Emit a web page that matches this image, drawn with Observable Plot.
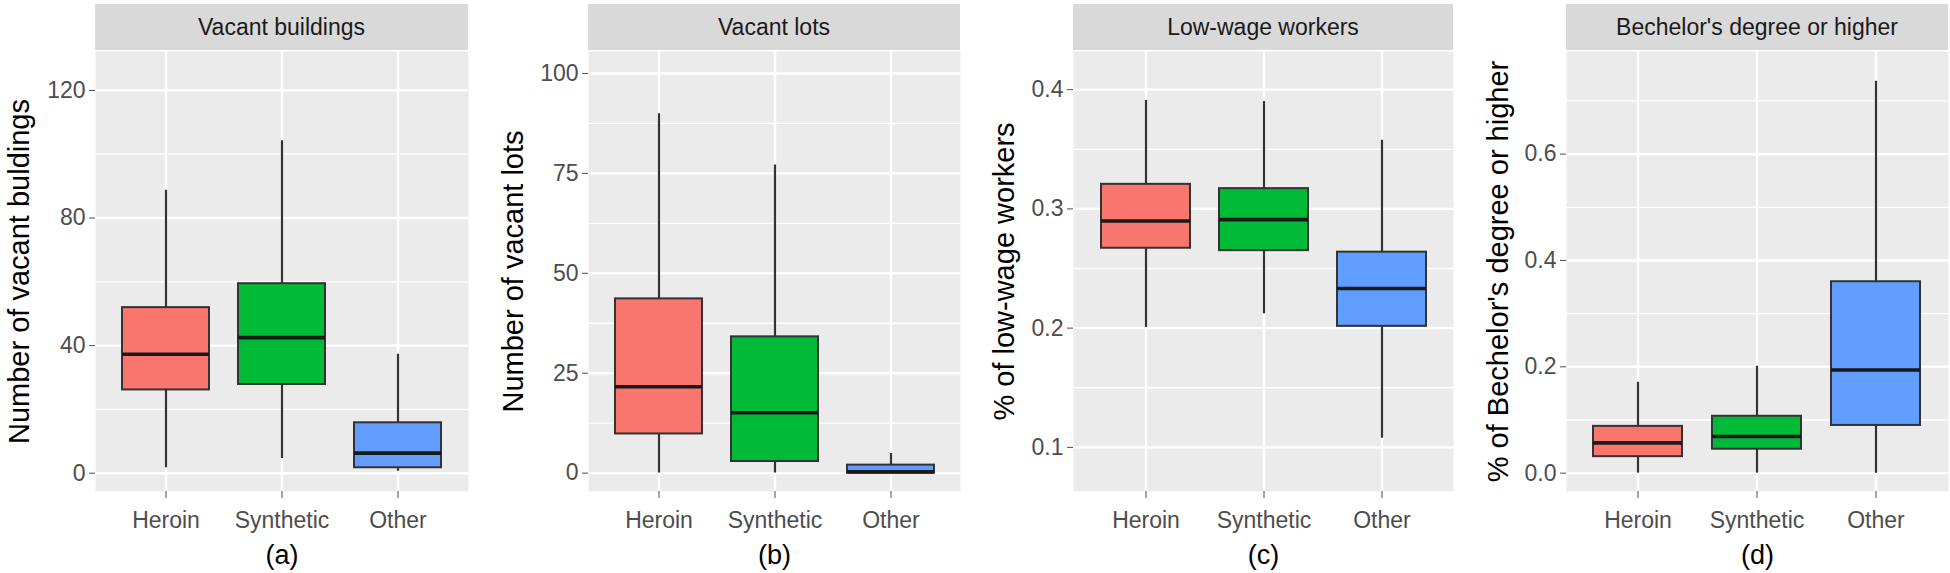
<!DOCTYPE html>
<html><head><meta charset="utf-8">
<script src="https://cdn.jsdelivr.net/npm/d3@7"></script>
<script src="https://cdn.jsdelivr.net/npm/@observablehq/plot@0.6"></script>
<style>
body{margin:0;background:#fff;overflow:hidden;}
#wrap{position:relative;width:1950px;height:573px;font-family:"Liberation Sans",Arial,sans-serif;}
.panel{position:absolute;top:0;}
.strip{position:absolute;top:4px;height:46px;background:#D9D9D9;color:#1A1A1A;font-size:23px;display:flex;align-items:center;justify-content:center;white-space:nowrap;}
</style></head><body><div id="wrap"></div>
<script>
// ---------- data ----------
const groups = ["Heroin", "Synthetic", "Other"];
const groupFills = ["#F8766D", "#00BA38", "#619CFF"];
const stripTitles = ["Vacant buildings", "Vacant lots", "Low-wage workers", "Bechelor's degree or higher"];
const yTitles = ["Number of vacant buldings", "Number of vacant lots", "% of low-wage workers", "% of Bechelor's degree or higher"];
const captions = ["(a)", "(b)", "(c)", "(d)"];

// each row: [lower whisker, Q1, median, Q3, upper whisker] for Heroin, Synthetic, Other
const vacantBuildings = [
  [1.7, 26.1, 37.3, 51.9, 88.7],
  [4.6, 27.8, 42.5, 59.4, 104.2],
  [0.6, 1.7, 6.3, 15.8, 37.3]
];
const vacantLots = [
  [0, 9.8, 21.6, 43.6, 89.9],
  [0, 2.9, 15.1, 34.1, 77.1],
  [0, 0, 0.3, 2.0, 4.9]
];
const lowWageWorkers = [
  [0.2006, 0.267, 0.2898, 0.3206, 0.391],
  [0.212, 0.265, 0.291, 0.317, 0.39],
  [0.1077, 0.2015, 0.2332, 0.2637, 0.3575]
];
const bachelorDegree = [
  [0, 0.031, 0.057, 0.088, 0.171],
  [0, 0.045, 0.069, 0.107, 0.201],
  [0, 0.0897, 0.194, 0.36, 0.737]
];

const buildingsTicks = [0, 40, 80, 120];
const buildingsTickLabels = ["0", "40", "80", "120"];
const buildingsMinor = [20, 60, 100];
const buildingsDomain = [-5.74, 132.2];

const lotsTicks = [0, 25, 50, 75, 100];
const lotsTickLabels = ["0", "25", "50", "75", "100"];
const lotsMinor = [12.5, 37.5, 62.5, 87.5];
const lotsDomain = [-4.6, 105.5];

const wageTicks = [0.1, 0.2, 0.3, 0.4];
const wageTickLabels = ["0.1", "0.2", "0.3", "0.4"];
const wageMinor = [0.15, 0.25, 0.35];
const wageDomain = [0.063, 0.432];

const bachelorTicks = [0, 0.2, 0.4, 0.6];
const bachelorTickLabels = ["0.0", "0.2", "0.4", "0.6"];
const bachelorMinor = [0.1, 0.3, 0.5, 0.7];
const bachelorDomain = [-0.0345, 0.793];

// ---------- layout ----------
const layout = [
  {left: 0,    width: 470, marginLeft: 95,  marginRight: 2, titleDx: -87},
  {left: 480,  width: 480, marginLeft: 108, marginRight: 0, titleDx: -86},
  {left: 960,  width: 495, marginLeft: 113, marginRight: 2, titleDx: -80},
  {left: 1455, width: 495, marginLeft: 111, marginRight: 2, titleDx: -79}
];
const H = 573, MT = 51, MB = 82;
const FONT = '"Liberation Sans", Arial, sans-serif';

const panels = [
  {stats: vacantBuildings, ticks: buildingsTicks, labels: buildingsTickLabels, minor: buildingsMinor, domain: buildingsDomain},
  {stats: vacantLots, ticks: lotsTicks, labels: lotsTickLabels, minor: lotsMinor, domain: lotsDomain},
  {stats: lowWageWorkers, ticks: wageTicks, labels: wageTickLabels, minor: wageMinor, domain: wageDomain},
  {stats: bachelorDegree, ticks: bachelorTicks, labels: bachelorTickLabels, minor: bachelorMinor, domain: bachelorDomain}
];

const wrap = document.getElementById("wrap");

panels.forEach((p, k) => {
  const L = layout[k];
  const rows = groups.map((g, i) => ({
    group: g, low: p.stats[i][0], q1: p.stats[i][1], med: p.stats[i][2], q3: p.stats[i][3], high: p.stats[i][4]
  }));
  const chart = Plot.plot({
    width: L.width,
    height: H,
    marginTop: MT,
    marginBottom: MB,
    marginLeft: L.marginLeft,
    marginRight: L.marginRight,
    style: {fontFamily: FONT, background: "transparent", overflow: "visible"},
    x: {type: "band", domain: groups, paddingInner: 0.25, paddingOuter: 0.225},
    y: {domain: p.domain, nice: false},
    color: {domain: groups, range: groupFills},
    marks: [
      Plot.frame({fill: "#EBEBEB", stroke: null}),
      Plot.ruleY(p.minor, {stroke: "white", strokeWidth: 1.3}),
      Plot.gridY({ticks: p.ticks, stroke: "white", strokeOpacity: 1, strokeWidth: 2.4}),
      Plot.gridX({stroke: "white", strokeOpacity: 1, strokeWidth: 2.4}),
      Plot.ruleX(rows, {x: "group", y1: "low", y2: "high", stroke: "#333333", strokeWidth: 2.2}),
      Plot.barY(rows, {x: "group", y1: "q1", y2: "q3", fill: "group", stroke: "#333333", strokeWidth: 2}),
      Plot.tickY(rows, {x: "group", y: "med", stroke: "#1A1A1A", strokeWidth: 3.6}),
      Plot.axisY({ticks: p.ticks, tickFormat: d => p.labels[p.ticks.indexOf(d)], tickSize: 6, tickPadding: 4,
        fontSize: 23, color: "#4D4D4D", label: null}),
      Plot.axisX({tickSize: 7, tickPadding: 13, fontSize: 23, color: "#4D4D4D", label: null}),
      Plot.text([yTitles[k]], {text: d => d, frameAnchor: "left", rotate: -90, dx: L.titleDx,
        lineAnchor: "top", textAnchor: "middle", fontSize: 29, fill: "black"}),
      Plot.text([captions[k]], {text: d => d, frameAnchor: "bottom", dy: 64, lineAnchor: "middle",
        fontSize: 27, fill: "black"})
    ]
  });
  const holder = document.createElement("div");
  holder.className = "panel";
  holder.style.left = L.left + "px";
  holder.style.width = L.width + "px";
  holder.appendChild(chart);
  wrap.appendChild(holder);

  const strip = document.createElement("div");
  strip.className = "strip";
  strip.style.left = (L.left + L.marginLeft) + "px";
  strip.style.width = (L.width - L.marginLeft - L.marginRight) + "px";
  strip.textContent = stripTitles[k];
  wrap.appendChild(strip);
});
</script>
</body></html>
